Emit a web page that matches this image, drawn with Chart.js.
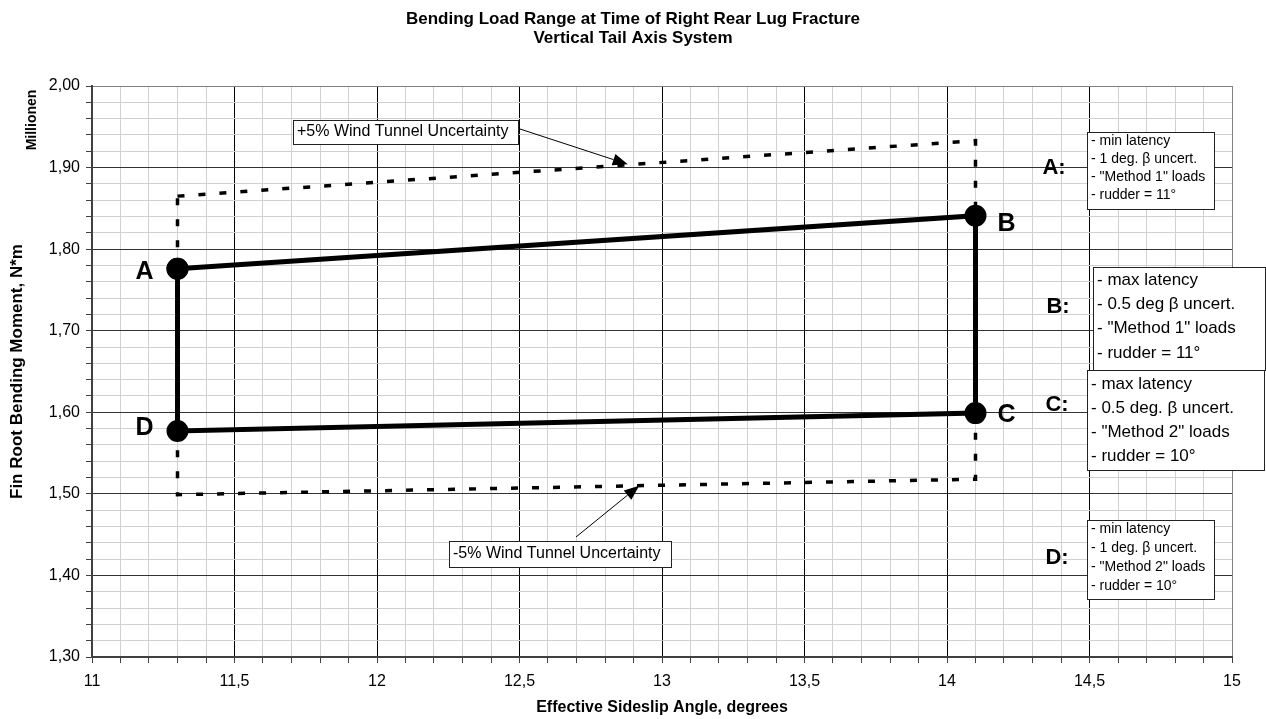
<!DOCTYPE html>
<html>
<head>
  <title>Bending Load Range at Time of Right Rear Lug Fracture</title>
  <script src="https://cdn.jsdelivr.net/npm/chart.js"></script>
  <style>
    body { margin: 0; background: #fff; }
    #wrap { width: 1266px; height: 719px; position: relative; }
  </style>
</head>
<body>
  <div id="wrap"><canvas id="loadChart"></canvas></div>

  <script>
    // corners of the load range: x = sideslip (deg), y = moment (millions N*m)
    var cornerNames = ["A", "B", "C", "D"];
    var cornerX = [11.3, 14.1, 14.1, 11.3];
    var cornerY = [1.776, 1.841, 1.599, 1.577];

    // +/-5% wind tunnel envelope: upper left, upper right, lower right, lower left
    var envX = [11.3, 14.1, 14.1, 11.3];
    var envY = [1.865, 1.933, 1.518, 1.499];

    var noteA = ["- min latency", "- 1 deg. \u03b2 uncert.", "- \"Method 1\" loads", "- rudder = 11\u00b0"];
    var noteB = ["- max latency", "- 0.5 deg \u03b2 uncert.", "- \"Method 1\" loads", "- rudder = 11\u00b0"];
    var noteC = ["- max latency", "- 0.5 deg. \u03b2 uncert.", "- \"Method 2\" loads", "- rudder = 10\u00b0"];
    var noteD = ["- min latency", "- 1 deg. \u03b2 uncert.", "- \"Method 2\" loads", "- rudder = 10\u00b0"];

    var FONT = "'Liberation Sans', Arial, sans-serif";

    function closed(xs, ys) {
      var pts = xs.map(function(x, i) { return { x: x, y: ys[i] }; });
      pts.push({ x: xs[0], y: ys[0] });
      return pts;
    }

    function near(v, step) {
      return Math.abs(v / step - Math.round(v / step)) < 1e-6;
    }

    function comma(v, d) {
      return v.toFixed(d).replace(".", ",");
    }

    function noteBox(ctx, left, top, w, h, lines, size, firstY, step) {
      ctx.save();
      ctx.fillStyle = "#fff";
      ctx.fillRect(left, top, w, h);
      ctx.strokeStyle = "#222";
      ctx.lineWidth = 1;
      ctx.strokeRect(left + 0.5, top + 0.5, w, h);
      ctx.fillStyle = "#000";
      ctx.font = size + "px " + FONT;
      ctx.textAlign = "left";
      ctx.textBaseline = "middle";
      lines.forEach(function(t, i) {
        ctx.fillText(t, left + 4, firstY + i * step);
      });
      ctx.restore();
    }

    function arrow(ctx, x0, y0, x1, y1) {
      var a = Math.atan2(y1 - y0, x1 - x0);
      var len = 15, half = 6;
      ctx.save();
      ctx.strokeStyle = "#000";
      ctx.fillStyle = "#000";
      ctx.lineWidth = 1;
      ctx.beginPath();
      ctx.moveTo(x0, y0);
      ctx.lineTo(x1 - len * Math.cos(a), y1 - len * Math.sin(a));
      ctx.stroke();
      ctx.beginPath();
      ctx.moveTo(x1, y1);
      ctx.lineTo(x1 - len * Math.cos(a) + half * Math.sin(a), y1 - len * Math.sin(a) - half * Math.cos(a));
      ctx.lineTo(x1 - len * Math.cos(a) - half * Math.sin(a), y1 - len * Math.sin(a) + half * Math.cos(a));
      ctx.closePath();
      ctx.fill();
      ctx.restore();
    }

    var overlay = {
      id: "overlay",
      afterDraw: function(chart) {
        var ctx = chart.ctx;
        var xs = chart.scales.x, ys = chart.scales.y;
        ctx.save();
        ctx.fillStyle = "#000";
        ctx.textAlign = "center";
        ctx.textBaseline = "middle";

        // titles
        ctx.font = "bold 17px " + FONT;
        ctx.fillText("Bending Load Range at Time of Right Rear Lug Fracture", 633, 19);
        ctx.fillText("Vertical Tail Axis System", 633, 38);
        ctx.font = "bold 16px " + FONT;
        ctx.fillText("Effective Sideslip Angle, degrees", (chart.chartArea.left + chart.chartArea.right) / 2, 708);

        ctx.save();
        ctx.translate(17, (chart.chartArea.top + chart.chartArea.bottom) / 2);
        ctx.rotate(-Math.PI / 2);
        ctx.font = "bold 17px " + FONT;
        ctx.fillText("Fin Root Bending Moment, N*m", 0, 0);
        ctx.restore();

        ctx.save();
        ctx.translate(32, 120);
        ctx.rotate(-Math.PI / 2);
        ctx.font = "bold 14px " + FONT;
        ctx.fillText("Millionen", 0, 0);
        ctx.restore();

        // corner letters
        var pts = chart.getDatasetMeta(0).data;
        var offs = [[-33, 3], [31, 8], [31, 2], [-33, -3]];
        ctx.font = "bold 25px " + FONT;
        cornerNames.forEach(function(n, i) {
          ctx.fillText(n, pts[i].x + offs[i][0], pts[i].y + offs[i][1]);
        });

        // case descriptions on the right
        ctx.font = "bold 22px " + FONT;
        ctx.fillText("A:", 1054, 168);
        ctx.fillText("B:", 1058, 307);
        ctx.fillText("C:", 1057, 405);
        ctx.fillText("D:", 1057, 558);
        ctx.restore();

        noteBox(ctx, 1087, 132, 127, 77, noteA, 14, 141, 18);
        noteBox(ctx, 1093, 267, 172, 103, noteB, 17, 280, 24.3);
        noteBox(ctx, 1087, 370, 177, 100, noteC, 17, 384, 24);
        noteBox(ctx, 1087, 520, 127, 79, noteD, 14, 529, 19);

        // wind tunnel callouts
        noteBox(ctx, 293, 120, 225, 24, ["+5% Wind Tunnel Uncertainty"], 16, 132, 0);
        arrow(ctx, 520, 129, xs.getPixelForValue(12.88), ys.getPixelForValue(1.904));
        noteBox(ctx, 449, 541, 222, 26, ["-5% Wind Tunnel Uncertainty"], 16, 554, 0);
        arrow(ctx, 576, 537, xs.getPixelForValue(12.92), ys.getPixelForValue(1.51));
      }
    };

    var ctx = document.getElementById("loadChart").getContext("2d");

    new Chart(ctx, {
      type: "scatter",
      data: {
        datasets: [{
          label: "Load range",
          data: closed(cornerX, cornerY),
          showLine: true,
          borderColor: "#000",
          borderWidth: 5,
          pointRadius: 8.5,
          pointBackgroundColor: "#000",
          pointBorderColor: "#000",
          order: 0
        }, {
          label: "Wind tunnel uncertainty",
          data: closed(envX, envY),
          showLine: true,
          borderColor: "#000",
          borderWidth: 3.5,
          borderDash: [7, 14],
          pointRadius: 0,
          order: 1
        }]
      },
      options: {
        responsive: true,
        maintainAspectRatio: false,
        animation: false,
        layout: { padding: { top: 86, right: 34, left: 0, bottom: 0 } },
        plugins: {
          legend: { display: false },
          tooltip: { enabled: false }
        },
        scales: {
          x: {
            type: "linear",
            min: 11,
            max: 15,
            afterFit: function(s) { s.height = 62; },
            border: { color: "#404040", width: 2 },
            grid: {
              color: function(c) {
                var v = c.tick.value;
                if (Math.abs(v - 15) < 1e-6) return "#808080";
                return near(v, 0.5) ? "#000" : "#d0d0d0";
              },
              tickColor: "#404040",
              tickLength: 6
            },
            ticks: {
              stepSize: 0.1,
              autoSkip: false,
              maxRotation: 0,
              padding: 9,
              color: "#000",
              font: { family: FONT, size: 16 },
              callback: function(v) {
                if (!near(v, 0.5)) return "";
                return near(v, 1) ? String(Math.round(v)) : comma(v, 1);
              }
            }
          },
          y: {
            type: "linear",
            min: 1.3,
            max: 2.0,
            afterFit: function(s) { s.width = 92; },
            border: { color: "#404040", width: 2 },
            grid: {
              color: function(c) {
                var v = c.tick.value;
                if (Math.abs(v - 2) < 1e-6) return "#808080";
                return near(v, 0.1) ? "#333" : "#d0d0d0";
              },
              tickColor: "#404040",
              tickLength: 6
            },
            ticks: {
              stepSize: 0.02,
              autoSkip: false,
              padding: 6,
              color: "#000",
              font: { family: FONT, size: 16 },
              callback: function(v) {
                return near(v, 0.1) ? comma(v, 2) : "";
              }
            }
          }
        }
      },
      plugins: [overlay]
    });
  </script>
</body>
</html>
